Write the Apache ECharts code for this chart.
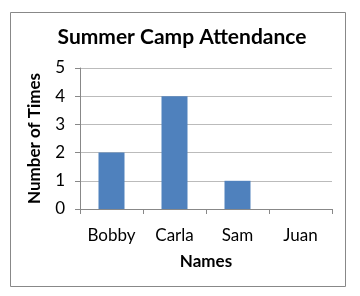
<!DOCTYPE html>
<html><head><meta charset="utf-8">
<script src="https://cdn.jsdelivr.net/npm/echarts@6/dist/echarts.min.js"></script>
<style>html,body{margin:0;padding:0;background:#fff}#c{width:360px;height:296px}</style>
</head><body><div id="c"></div>
<script>
const categories = ["Bobby", "Carla", "Sam", "Juan"];
const values = [2, 4, 1, 0];
const titleText = "Summer Camp Attendance";
const xName = "Names";
const yName = "Number of Times";
const FONT = "Lato";
const chart = echarts.init(document.getElementById('c'));
chart.setOption({
  animation: false,
  backgroundColor: '#fff',
  graphic: [{type:'rect', shape:{x:10.5,y:12.5,width:335,height:274}, style:{fill:'none',stroke:'#888',lineWidth:1}}],
  title: {text: titleText, left: 177, textAlign: 'center', top: 22,
    textStyle: {fontFamily: FONT, fontWeight: 'bold', fontSize: 21, color: '#000'}},
  grid: {left: 80, right: 28, top: 68, bottom: 87},
  xAxis: {type:'category', data: categories, name: xName, nameLocation:'middle', nameGap: 44,
    nameTextStyle:{fontFamily:FONT,fontWeight:'bold',fontSize:17,color:'#000'},
    axisLine:{lineStyle:{color:'#888'}}, axisTick:{show:true,length:5,lineStyle:{color:'#888'}},
    axisLabel:{fontFamily:FONT,fontSize:17,color:'#000',margin:18}},
  yAxis: {type:'value', min:0, max:5, interval:1, name: yName, nameLocation:'middle', nameGap: 37,
    nameTextStyle:{fontFamily:FONT,fontWeight:'bold',fontSize:17,color:'#000'},
    axisLine:{show:true,lineStyle:{color:'#888'}}, axisTick:{show:true,length:5,lineStyle:{color:'#888'}},
    splitLine:{lineStyle:{color:'#bbb'}},
    axisLabel:{fontFamily:FONT,fontSize:17,color:'#000',margin:15}},
  series: [{type:'bar', data: values, barWidth: 26, itemStyle:{color:'#4F81BD'}}]
});
</script></body></html>
